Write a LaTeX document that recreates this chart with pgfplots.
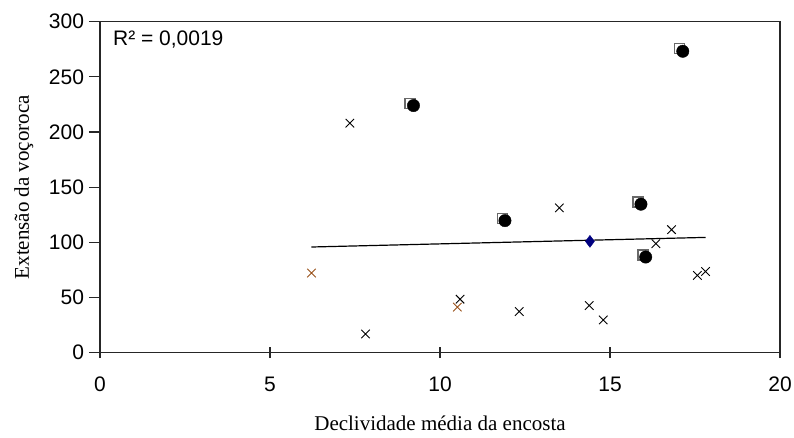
\documentclass[border=0pt]{standalone}
\usepackage{fontspec}
\setmainfont{Liberation Serif}
\newfontfamily\arial{Liberation Sans}
\usepackage{pgfplots}
\pgfplotsset{compat=1.18}
\definecolor{brownx}{RGB}{153,80,25}
\definecolor{navyd}{RGB}{0,0,128}
\definecolor{sqgray}{RGB}{105,105,105}

\begin{document}
\begin{tikzpicture}
\useasboundingbox (-100pt,-84.3pt) rectangle (694pt,352.7pt);
\begin{axis}[
  at={(0pt,0pt)}, anchor=south west,
  scale only axis, width=680pt, height=331pt,
  xmin=0, xmax=20, ymin=0, ymax=300,
  xtick={0,5,...,20}, ytick={0,50,...,300},
  xtick pos=bottom, ytick pos=left,
  axis line style={line width=1.5pt, black!85},
  tick style={line width=1.2pt, black!85},
  major tick length=11pt, tick align=center,
  ytick style={xshift=-5.5pt},
  ticklabel style={font=\arial\fontsize{21}{25}\selectfont},
  xticklabel style={yshift=-15pt},
  yticklabel style={xshift=-7pt},
  /pgf/number format/assume math mode=true,
  clip=false,
]
% linear trend of the whole sample
\addplot[black, line width=1.2pt] coordinates {(6.22,95.8) (17.81,104.5)};

% open squares behind the filled circles
\addplot[only marks, mark=square*, mark size=5pt,
  mark options={fill=white, draw=sqgray, line width=1.5pt}] coordinates {
  (17.04,275.5) (9.12,226) (11.84,121.5) (15.83,136.5) (15.97,88.5)};
\addplot[only marks, mark=*, mark size=6.2pt,
  mark options={fill=black, draw=black}] coordinates {
  (17.14,273.2) (9.22,224) (11.91,119.7) (15.91,134.6) (16.05,86.7)};

% crosses
\addplot[only marks, mark=x, mark size=6pt,
  mark options={draw=black, line width=0.9pt}] coordinates {
  (7.35,208) (7.81,17) (10.59,48.5) (12.33,37.3) (13.51,131.3)
  (14.39,42.7) (14.80,29.7) (16.35,98.8) (16.81,111.5)
  (17.57,70) (17.81,73.6)};
\addplot[only marks, mark=x, mark size=6pt,
  mark options={draw=brownx, line width=0.9pt}] coordinates {
  (6.22,72.2) (10.51,41.3)};

% mean point
\addplot[only marks, mark=diamond*, mark size=6pt,
  mark options={fill=navyd, draw=navyd}] coordinates {(14.41,100.9)};

\node[anchor=base west, inner sep=0pt, font=\arial\fontsize{21}{25}\selectfont]
  at (axis cs:0.38,278.2) {R² = 0,0019};

\node[rotate=90, font=\fontsize{21}{25}\selectfont]
  at (rel axis cs:-0.112,0.5) {Extensão da voçoroca};
\node[font=\fontsize{21}{25}\selectfont]
  at (rel axis cs:0.5,-0.214) {Declividade média da encosta};
\end{axis}
\end{tikzpicture}
\end{document}
